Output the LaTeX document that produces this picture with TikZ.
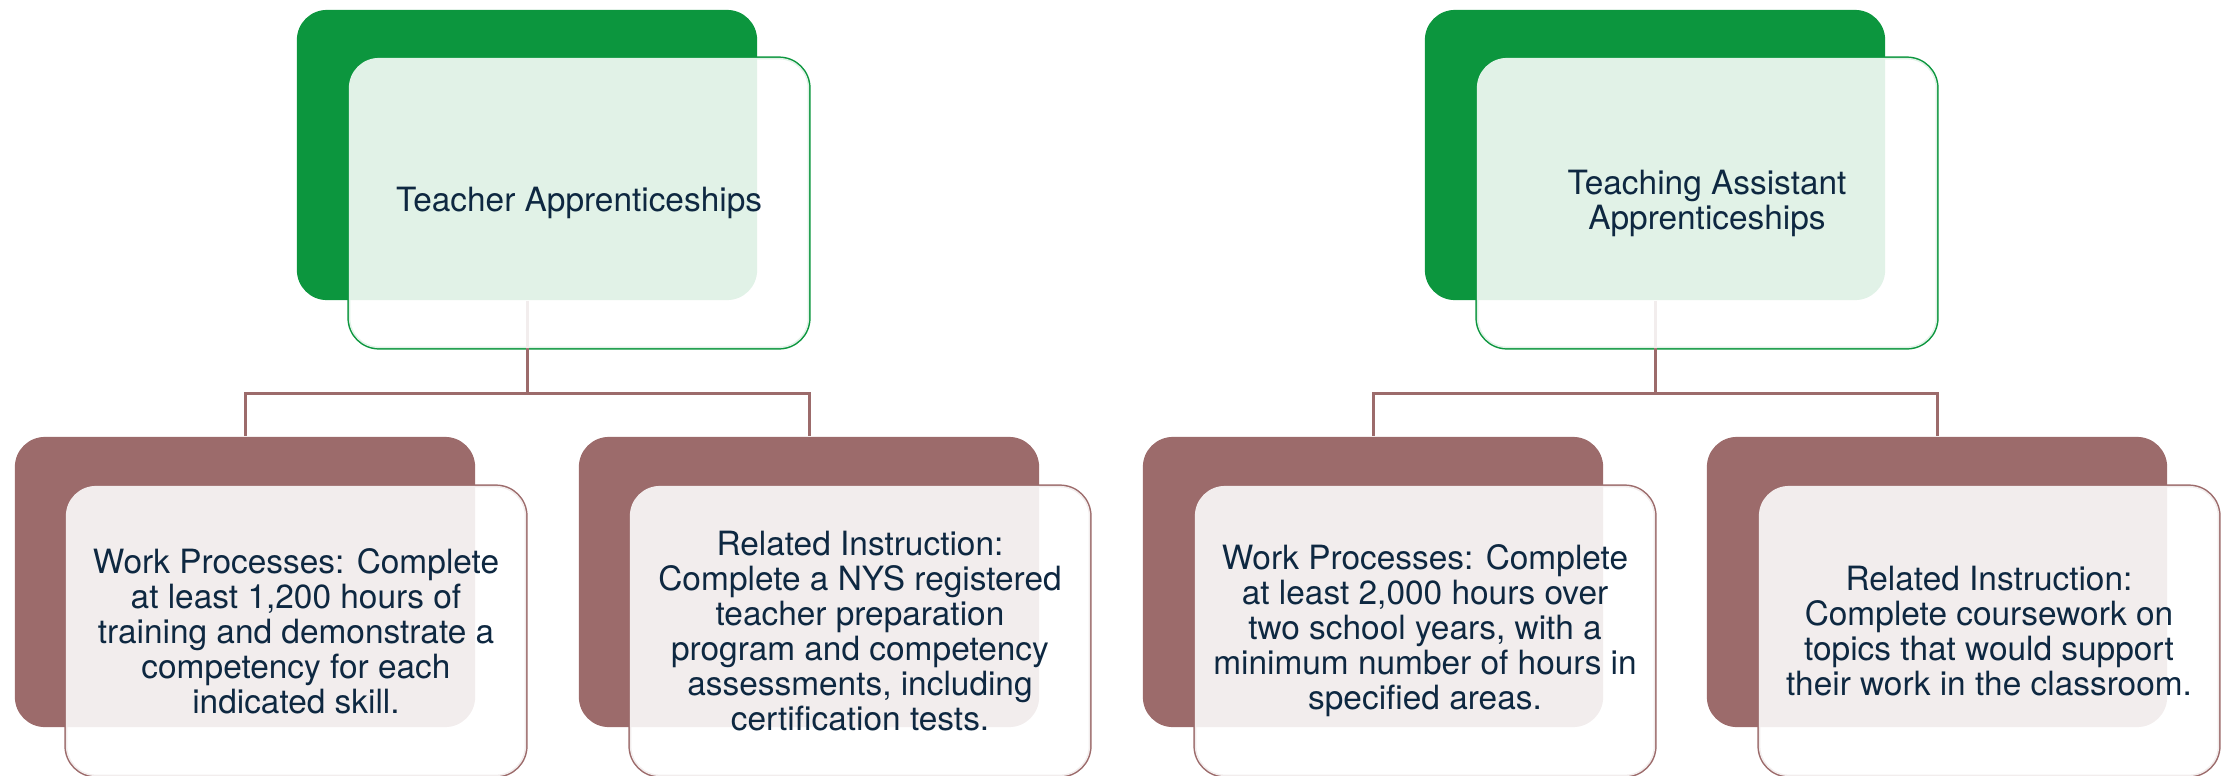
\documentclass[tikz,border=0pt]{standalone}
\usepackage{fontspec}
\setmainfont{TeX Gyre Heros}
\definecolor{grn}{RGB}{12,150,62}
\definecolor{mar}{RGB}{156,107,107}
\definecolor{txt}{RGB}{14,40,65}
\begin{document}
\begin{tikzpicture}[x=0.01cm,y=-0.01cm,
  box/.style={rectangle, rounded corners=0.3cm, minimum width=4.6cm, minimum height=2.9cm, inner sep=0pt},
  frontline/.style={box, draw=#1, line width=0.03cm},
  backfill/.style={box, fill=#1},
  over/.style={box, fill=white, fill opacity=0.88, text opacity=1, text=txt, align=center,
    font=\fontsize{9.5pt}{9.96pt}\selectfont},
  conn/.style={draw=mar, line width=0.03cm}]
\useasboundingbox (0,0) rectangle (2233,775);
% front outlines
\node[frontline=grn] (t1f) at (579,203) {};
\node[frontline=grn] (t2f) at (1707,203) {};
\node[frontline=mar] (c1f) at (296,631) {};
\node[frontline=mar] (c2f) at (860,631) {};
\node[frontline=mar] (c3f) at (1425,631) {};
\node[frontline=mar] (c4f) at (1989,631) {};
% back fills
\node[backfill=grn] (t1b) at (527,155) {};
\node[backfill=grn] (t2b) at (1655,155) {};
\node[backfill=mar] (c1b) at (245,582) {};
\node[backfill=mar] (c2b) at (809,582) {};
\node[backfill=mar] (c3b) at (1373,582) {};
\node[backfill=mar] (c4b) at (1937,582) {};
% connectors
\draw[conn] (t1b.south) -- ++(0,93) -| (c1b.north);
\draw[conn] (t1b.south) -- ++(0,93) -| (c2b.north);
\draw[conn] (t2b.south) -- ++(0,93) -| (c3b.north);
\draw[conn] (t2b.south) -- ++(0,93) -| (c4b.north);
% overlays with text
\node[over] (t1o) at (t1f.center) {Teacher Apprenticeships};
\node[over] (t2o) at (t2f.center) {Teaching Assistant\\Apprenticeships};
\node[over] (c1o) at (c1f.center) {Work Processes: Complete\\at least 1,200 hours of\\training and demonstrate a\\competency for each\\indicated skill.};
\node[over] (c2o) at (c2f.center) {Related Instruction:\\Complete a NYS registered\\teacher preparation\\program and competency\\assessments, including\\certification tests.};
\node[over] (c3o) at (c3f.center) {Work Processes: Complete\\at least 2,000 hours over\\two school years, with a\\minimum number of hours in\\specified areas.};
\node[over] (c4o) at (c4f.center) {Related Instruction:\\Complete coursework on\\topics that would support\\their work in the classroom.};
\end{tikzpicture}
\end{document}
